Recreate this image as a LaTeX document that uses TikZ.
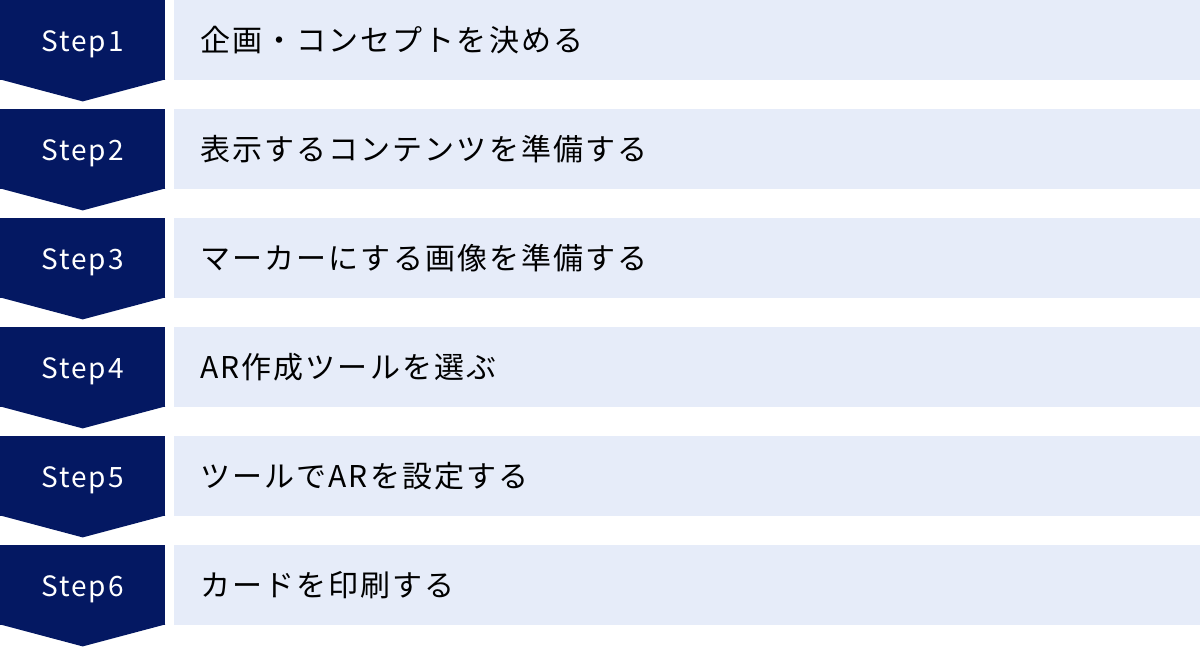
\documentclass[tikz,border=0pt]{standalone}
\usepackage{fontspec}
\setmainfont{Noto Sans CJK JP}[LetterSpace=7]
\definecolor{navy}{HTML}{041862}
\definecolor{pale}{HTML}{E6ECF9}

\begin{document}
\begin{tikzpicture}[x=1pt, y=-1pt,
  stepbox/.style={shape=rectangle, fill=navy, text=white, anchor=north west,
    minimum width=165pt, minimum height=80pt, inner sep=0pt,
    text height=23pt, text depth=0pt, font=\fontsize{28}{34}\selectfont},
  taskbox/.style={shape=rectangle, fill=pale, anchor=north west,
    minimum width=1026pt, minimum height=80pt, inner xsep=26pt, inner ysep=0pt,
    text width=974pt, align=left, font=\fontsize{30}{36}\selectfont}]
\useasboundingbox[fill=white] (0,0) rectangle (1200,647);

\node [stepbox] (S1) at (0,0) {Step1};
\node [taskbox] (T1) at (174,0) {企画・コンセプトを決める};
\fill[navy] ([yshift=1pt]S1.south west) -- ([yshift=1pt]S1.south east) -- ([yshift=-21pt]S1.south) -- cycle;

\node [stepbox] (S2) at (0,109) {Step2};
\node [taskbox] (T2) at (174,109) {表示するコンテンツを準備する};
\fill[navy] ([yshift=1pt]S2.south west) -- ([yshift=1pt]S2.south east) -- ([yshift=-21pt]S2.south) -- cycle;

\node [stepbox] (S3) at (0,218) {Step3};
\node [taskbox] (T3) at (174,218) {マーカーにする画像を準備する};
\fill[navy] ([yshift=1pt]S3.south west) -- ([yshift=1pt]S3.south east) -- ([yshift=-21pt]S3.south) -- cycle;

\node [stepbox] (S4) at (0,327) {Step4};
\node [taskbox] (T4) at (174,327) {AR作成ツールを選ぶ};
\fill[navy] ([yshift=1pt]S4.south west) -- ([yshift=1pt]S4.south east) -- ([yshift=-21pt]S4.south) -- cycle;

\node [stepbox] (S5) at (0,436) {Step5};
\node [taskbox] (T5) at (174,436) {ツールでARを設定する};
\fill[navy] ([yshift=1pt]S5.south west) -- ([yshift=1pt]S5.south east) -- ([yshift=-21pt]S5.south) -- cycle;

\node [stepbox] (S6) at (0,545) {Step6};
\node [taskbox] (T6) at (174,545) {カードを印刷する};
\fill[navy] ([yshift=1pt]S6.south west) -- ([yshift=1pt]S6.south east) -- ([yshift=-21pt]S6.south) -- cycle;
\end{tikzpicture}
\end{document}
